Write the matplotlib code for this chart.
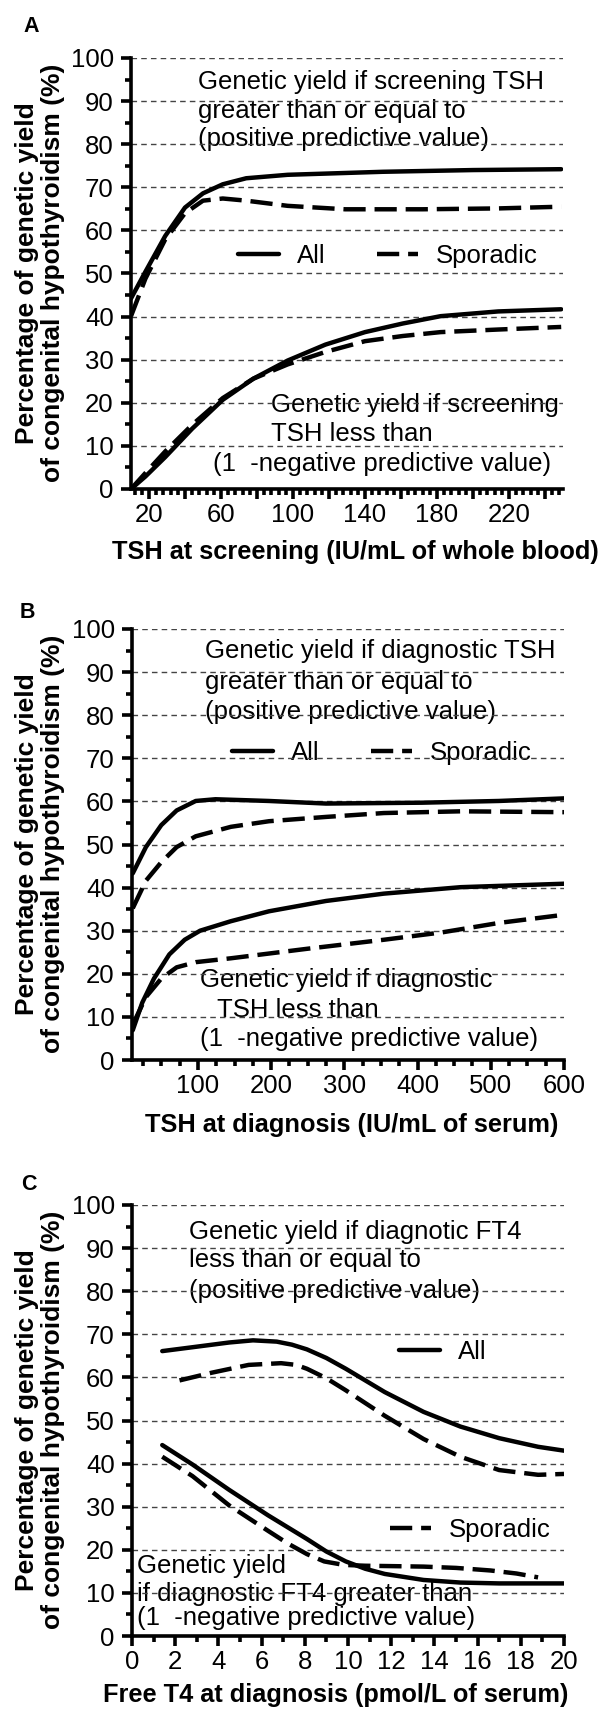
import matplotlib
matplotlib.use('Agg')
import matplotlib.pyplot as plt
from matplotlib.ticker import MultipleLocator
from matplotlib.lines import Line2D

plt.rcParams['font.family'] = ['Liberation Sans', 'DejaVu Sans']

W, H = 602, 1711

# ---- panel A: TSH at screening ----
a_x_all_hi = [10, 18, 29, 40, 50, 61, 74, 97, 150, 200, 249]
a_y_all_hi = [44.2, 50.4, 58.7, 65.3, 68.6, 70.7, 72.1, 72.9, 73.6, 74.0, 74.2]
a_x_spo_hi = [10, 18, 29, 40, 50, 61, 74, 97, 129, 172, 214, 249]
a_y_spo_hi = [40.1, 48.8, 57.9, 64.0, 66.9, 67.4, 66.9, 65.7, 64.9, 64.9, 65.1, 65.5]
a_x_lo = [10, 18, 29, 44, 61, 78, 97, 118, 140, 161, 182, 214, 249]
a_y_all_lo = [0, 2.9, 7.4, 14.0, 20.7, 25.6, 29.8, 33.5, 36.4, 38.4, 40.1, 41.2, 41.7]
a_y_spo_lo = [0, 3.7, 8.7, 14.9, 21.1, 25.6, 28.9, 31.8, 34.3, 35.5, 36.4, 37.0, 37.6]
a_xticks = [20, 40, 60, 80, 100, 120, 140, 160, 180, 200, 220, 240]
a_xlabels = ['20', '', '60', '', '100', '', '140', '', '180', '', '220', '']

# ---- panel B: TSH at diagnosis ----
b_x_all_hi = [11, 29, 50, 71, 97, 124, 197, 275, 406, 511, 600]
b_y_all_hi = [43.3, 49.4, 54.5, 57.9, 60.1, 60.5, 60.1, 59.5, 59.7, 60.1, 60.7]
b_x_spo_hi = [11, 29, 50, 71, 97, 145, 197, 275, 354, 459, 600]
b_y_spo_hi = [35.2, 41.6, 45.9, 49.4, 51.9, 54.1, 55.4, 56.4, 57.3, 57.7, 57.5]
b_x_all_lo = [11, 24, 40, 61, 82, 103, 145, 197, 275, 354, 459, 600]
b_y_all_lo = [6.9, 13.3, 18.9, 24.5, 27.9, 30.0, 32.2, 34.5, 36.9, 38.6, 40.1, 40.9]
b_x_spo_lo = [11, 29, 50, 71, 97, 145, 249, 354, 433, 511, 600]
b_y_spo_lo = [8.2, 14.6, 18.9, 21.5, 22.7, 23.6, 25.8, 27.9, 29.6, 31.8, 33.7]
b_xticks = [100, 200, 300, 400, 500, 600]

# ---- panel C: free T4 at diagnosis ----
c_x_all_hi = [1.4, 2.8, 4.5, 5.6, 6.7, 7.4, 8.1, 9.0, 9.9, 11.7, 13.5, 15.2, 17.0, 18.8, 20.0]
c_y_all_hi = [66.1, 67.0, 68.1, 68.6, 68.3, 67.6, 66.5, 64.5, 62.0, 56.6, 52.0, 48.6, 45.9, 43.9, 43.0]
c_x_spo_hi = [2.2, 3.7, 5.4, 6.9, 7.6, 8.1, 9.0, 9.9, 11.7, 13.5, 15.2, 17.0, 18.8, 20.0]
c_y_spo_hi = [59.3, 61.1, 62.9, 63.3, 62.9, 62.0, 59.8, 57.0, 51.1, 45.7, 41.6, 38.5, 37.4, 37.6]
c_x_all_lo = [1.4, 2.8, 4.5, 6.3, 8.1, 9.0, 9.9, 10.8, 11.7, 13.5, 15.2, 17.0, 20.0]
c_y_all_lo = [44.3, 39.8, 33.9, 28.0, 22.5, 19.6, 17.3, 15.6, 14.4, 13.0, 12.4, 12.2, 12.2]
c_x_spo_lo = [1.4, 2.8, 4.5, 6.3, 7.2, 8.1, 8.9, 9.8, 10.8, 12.2, 13.5, 15.0, 16.6, 17.8, 18.8]
c_y_spo_lo = [41.6, 37.1, 30.3, 24.4, 21.5, 19.0, 17.3, 16.5, 16.3, 16.2, 16.1, 15.8, 15.2, 14.5, 13.6]
c_xticks = [0, 2, 4, 6, 8, 10, 12, 14, 16, 18, 20]

ylabel = 'Percentage of genetic yield\nof congenital hypothyroidism (%)'
LW = 3.2
DASH = (0, (5, 2))
FS = 18.5
LFS = 18.3


def fx(x):
    return x / W


def fy(y):
    return 1 - y / H


def make_axes(left, top, right, bottom):
    ax = fig.add_axes([fx(left), fy(bottom), (right - left) / W, (bottom - top) / H])
    for s in ['top', 'right']:
        ax.spines[s].set_visible(False)
    for s in ['left', 'bottom']:
        ax.spines[s].set_linewidth(2.6)
    ax.set_ylim(0, 100)
    ax.yaxis.set_major_locator(MultipleLocator(10))
    ax.yaxis.set_minor_locator(MultipleLocator(5))
    ax.tick_params(which='major', length=7, width=2.6, labelsize=FS, pad=3)
    ax.tick_params(which='minor', length=4, width=2.6)
    ax.tick_params(axis='y', which='major', pad=5.5)
    for v in range(10, 101, 10):
        ax.axhline(v, color='#444444', lw=1.0, ls=(0, (4, 3)), zorder=1.5)
    return ax


def curve(ax, x, y, dashed=False):
    if dashed:
        ax.plot(x, y, color='black', lw=LW, ls=DASH, zorder=3)
    else:
        ax.plot(x, y, color='black', lw=LW, solid_capstyle='round',
                solid_joinstyle='round', zorder=3)


def put(ax, x, y, s, **kw):
    ax.text(fx(x), fy(y), s, transform=fig.transFigure, fontsize=FS,
            va='center', ha='left', zorder=1, **kw)


def legend(ax, handles, labels, x, y, ncol=1):
    leg = ax.legend(handles, labels, loc='center left', bbox_to_anchor=(fx(x), fy(y)),
                    bbox_transform=fig.transFigure, frameon=False, fontsize=FS,
                    ncol=ncol, handlelength=1.6, handletextpad=0.7, columnspacing=2.0,
                    borderpad=0, borderaxespad=0)
    leg.set_zorder(1)
    return leg


def labels(letter, lx, ly, yc, xlab, xx, xy):
    fig.text(fx(lx), fy(ly), letter, fontsize=15.5, fontweight='bold', ha='center', va='center')
    fig.text(fx(40), fy(yc), ylabel, rotation=90, fontsize=19, fontweight='bold',
             ha='center', va='center', linespacing=1.1)
    fig.text(fx(xx), fy(xy), xlab, fontsize=LFS, fontweight='bold', ha='center', va='center')


fig = plt.figure(figsize=(W / 100, H / 100), dpi=100)

h_all = Line2D([], [], color='black', lw=LW, solid_capstyle='round')
h_spo = Line2D([], [], color='black', lw=LW, ls=DASH)

# ---------- A ----------
ax = make_axes(131, 58, 563, 489)
curve(ax, a_x_all_hi, a_y_all_hi)
curve(ax, a_x_spo_hi, a_y_spo_hi, dashed=True)
curve(ax, a_x_lo, a_y_all_lo)
curve(ax, a_x_lo, a_y_spo_lo, dashed=True)
ax.set_xlim(10, 250)
ax.set_xticks(a_xticks, a_xlabels)
ax.xaxis.set_minor_locator(MultipleLocator(4))
put(ax, 198, 82, 'Genetic yield if screening TSH')
put(ax, 198, 111, 'greater than or equal to')
put(ax, 198, 139, '(positive predictive value)')
put(ax, 271, 405, 'Genetic yield if screening')
put(ax, 271, 434, 'TSH less than')
put(ax, 213, 464, '(1  -negative predictive value)')
legend(ax, [h_all, h_spo], ['All', 'Sporadic'], 238, 256, ncol=2)
labels('A', 31, 27, 273, 'TSH at screening (IU/mL of whole blood)', 355, 552)

# ---------- B ----------
ax = make_axes(132, 629, 564, 1060)
curve(ax, b_x_all_hi, b_y_all_hi)
curve(ax, b_x_spo_hi, b_y_spo_hi, dashed=True)
curve(ax, b_x_all_lo, b_y_all_lo)
curve(ax, b_x_spo_lo, b_y_spo_lo, dashed=True)
ax.set_xlim(10, 600)
ax.set_xticks(b_xticks)
ax.xaxis.set_minor_locator(MultipleLocator(25))
put(ax, 205, 651, 'Genetic yield if diagnostic TSH')
put(ax, 205, 682, 'greater than or equal to')
put(ax, 205, 712, '(positive predictive value)')
put(ax, 200, 980, 'Genetic yield if diagnostic')
put(ax, 217, 1010, 'TSH less than')
put(ax, 200, 1039, '(1  -negative predictive value)')
legend(ax, [h_all, h_spo], ['All', 'Sporadic'], 232, 753, ncol=2)
labels('B', 27, 612, 844, 'TSH at diagnosis (IU/mL of serum)', 352, 1125)

# ---------- C ----------
ax = make_axes(132, 1205, 564, 1636)
curve(ax, c_x_all_hi, c_y_all_hi)
curve(ax, c_x_spo_hi, c_y_spo_hi, dashed=True)
curve(ax, c_x_all_lo, c_y_all_lo)
curve(ax, c_x_spo_lo, c_y_spo_lo, dashed=True)
ax.set_xlim(0, 20)
ax.set_xticks(c_xticks)
ax.xaxis.set_minor_locator(MultipleLocator(1))
put(ax, 189, 1232, 'Genetic yield if diagnotic FT4')
put(ax, 189, 1260, 'less than or equal to')
put(ax, 189, 1291, '(positive predictive value)')
put(ax, 137, 1566, 'Genetic yield')
put(ax, 137, 1594, 'if diagnostic FT4 greater than')
put(ax, 137, 1618, '(1  -negative predictive value)')
leg1 = legend(ax, [h_all], ['All'], 399, 1352)
ax.add_artist(leg1)
legend(ax, [h_spo], ['Sporadic'], 390, 1530)
labels('C', 29, 1184, 1420, 'Free T4 at diagnosis (pmol/L of serum)', 336, 1695)

fig.savefig('out.png', dpi=100)
